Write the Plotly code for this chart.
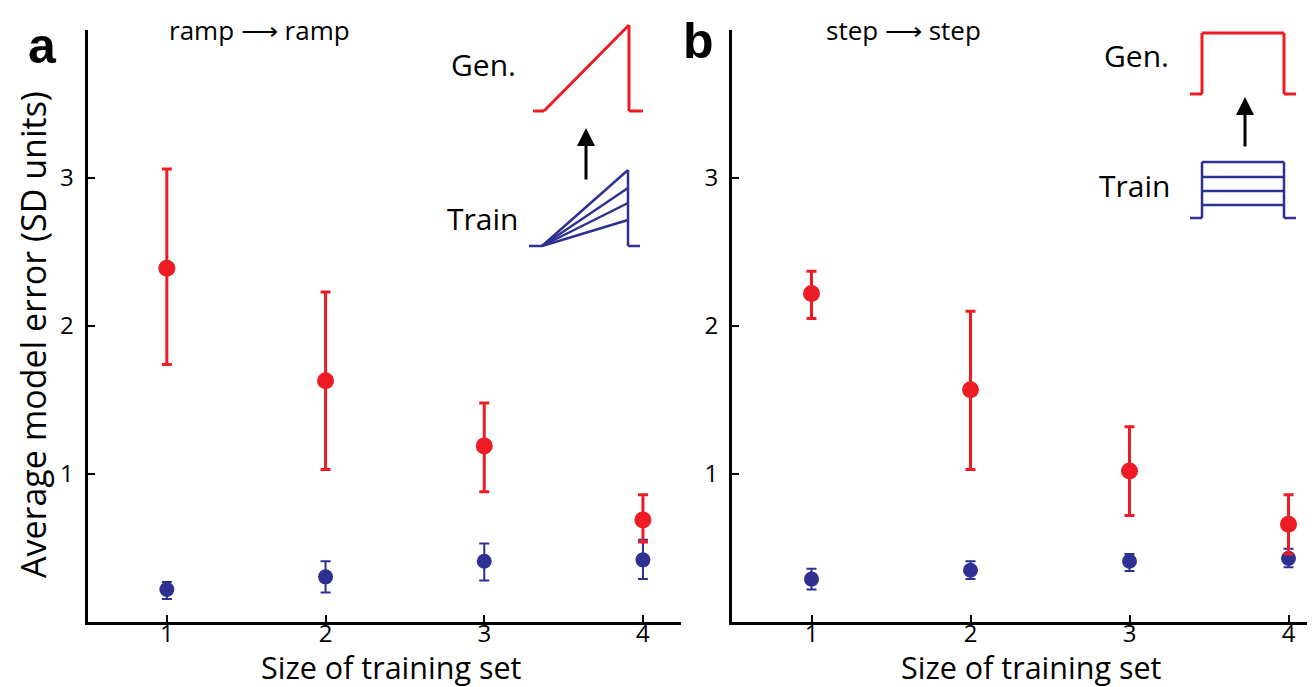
import plotly.graph_objects as go

W, H = 1315, 687

# ---------------- data ----------------
sizes = [1, 2, 3, 4]

# panel a: ramp -> ramp
a_gen_mean = [2.39, 1.63, 1.19, 0.69]
a_gen_hi = [3.06, 2.23, 1.48, 0.86]
a_gen_lo = [1.74, 1.03, 0.88, 0.54]
a_train_mean = [0.22, 0.305, 0.41, 0.42]
a_train_hi = [0.27, 0.41, 0.53, 0.556]
a_train_lo = [0.156, 0.20, 0.28, 0.29]

# panel b: step -> step
b_gen_mean = [2.22, 1.57, 1.02, 0.66]
b_gen_hi = [2.37, 2.10, 1.32, 0.86]
b_gen_lo = [2.05, 1.03, 0.72, 0.46]
b_train_mean = [0.29, 0.35, 0.41, 0.43]
b_train_hi = [0.36, 0.41, 0.46, 0.495]
b_train_lo = [0.22, 0.29, 0.345, 0.37]

y_tickvals = [1, 2, 3, 4]
y_ticktext = ["1", "2", "3", ""]
x_tickvals = [1, 2, 3, 4]
x_ticktext = ["1", "2", "3", "4"]

RED = "#ED1C24"
BLUE = "#2E3192"
FONT = "Open Sans"


def px(x):
    return x / W


def py(y):
    return 1 - y / H


fig = go.Figure()


def add_series(mean, hi, lo, color, size, width, xa, ya):
    fig.add_trace(go.Scatter(
        x=sizes, y=mean, mode="markers", xaxis=xa, yaxis=ya,
        marker=dict(color=color, size=size, line=dict(width=0)),
        error_y=dict(type="data", symmetric=False,
                     array=[h - m for h, m in zip(hi, mean)],
                     arrayminus=[m - l for m, l in zip(mean, lo)],
                     color=color, thickness=width, width=5),
        showlegend=False, hoverinfo="skip"))


add_series(a_train_mean, a_train_hi, a_train_lo, BLUE, 15, 2, "x", "y")
add_series(a_gen_mean, a_gen_hi, a_gen_lo, RED, 17, 3, "x", "y")
add_series(b_train_mean, b_train_hi, b_train_lo, BLUE, 15, 2, "x2", "y2")
add_series(b_gen_mean, b_gen_hi, b_gen_lo, RED, 17, 3, "x2", "y2")

ydom = [py(614), py(22)]
axis_common = dict(showline=True, linecolor="black", linewidth=3, ticks="inside",
                   ticklen=7, tickwidth=2, tickcolor="black", showgrid=False,
                   zeroline=False, tickfont=dict(family=FONT, size=24, color="black"))

fig.update_layout(
    width=W, height=H, margin=dict(l=0, r=0, t=0, b=0),
    paper_bgcolor="white", plot_bgcolor="white",
    xaxis=dict(domain=[px(79.5), px(673)], range=[0.5, 0.5 + (673 - 79.5) / 158.7],
               tickvals=x_tickvals, ticktext=x_ticktext, anchor="y",
               ticklabelstandoff=-12, **axis_common),
    yaxis=dict(domain=ydom, range=[0, 4], tickvals=y_tickvals, ticktext=y_ticktext,
               anchor="x", ticklabelstandoff=6, **axis_common),
    xaxis2=dict(domain=[px(724), 1], range=[0.5, 0.5 + (1315 - 724) / 159.0],
                tickvals=x_tickvals, ticktext=x_ticktext, anchor="y2",
                ticklabelstandoff=-12, **axis_common),
    yaxis2=dict(domain=ydom, range=[0, 4], tickvals=y_tickvals, ticktext=y_ticktext,
                anchor="x2", ticklabelstandoff=6, **axis_common),
)

ann = []


def text(x, y, s, size, bold=False, angle=0, family=FONT):
    ann.append(dict(x=px(x), y=py(y), xref="paper", yref="paper", text=("<b>%s</b>" % s) if bold else s,
                    showarrow=False, textangle=angle, xanchor="center", yanchor="middle",
                    font=dict(family=family, size=size, color="black")))


text(383, 659, "Size of training set", 30.5)
text(1023, 659, "Size of training set", 30.5)
text(25, 327, "Average model error (SD units)", 34, angle=-90)
text(34, 38, "a", 50, bold=True, family="Liberation Sans")
text(690, 33, "b", 50, bold=True, family="Liberation Sans")
text(251, 22, "ramp ⟶ ramp", 26)
text(895, 22, "step ⟶ step", 26)
text(476, 56, "Gen.", 30)
text(474, 211, "Train", 30)
text(1128, 48, "Gen.", 30)
text(1126, 177, "Train", 30)

# arrows
for xh, yh, ay in [(578, 120, 53), (1237, 89, 51)]:
    ann.append(dict(x=px(xh), y=py(yh), xref="paper", yref="paper", ax=0, ay=ay,
                    axref="pixel", ayref="pixel", showarrow=True, arrowhead=2,
                    arrowsize=1.2, arrowwidth=3, arrowcolor="black", text=""))

fig.update_layout(annotations=ann)

shapes = []


def seg(x0, y0, x1, y1, color, w=3):
    shapes.append(dict(type="line", xref="paper", yref="paper", x0=px(x0), y0=py(y0),
                       x1=px(x1), y1=py(y1), line=dict(color=color, width=w)))


# panel a inset: ramps
seg(525, 103, 536, 103, RED)
seg(536, 103, 621, 17, RED)
seg(621, 17, 621, 103, RED)
seg(621, 103, 635, 103, RED)

seg(521, 238, 534, 238, BLUE, 2.5)
for ytop in [162, 180, 195, 212]:
    seg(534, 238, 620, ytop, BLUE, 2.5)
seg(620, 162, 620, 238, BLUE, 2.5)
seg(620, 238, 632, 238, BLUE, 2.5)

# panel b inset: steps
seg(1182, 86, 1194, 86, RED)
seg(1194, 86, 1194, 25, RED)
seg(1194, 25, 1276, 25, RED)
seg(1276, 25, 1276, 86, RED)
seg(1276, 86, 1288, 86, RED)

seg(1182, 210, 1194, 210, BLUE, 2.5)
seg(1194, 210, 1194, 154, BLUE, 2.5)
for yl in [154, 169, 183, 197]:
    seg(1194, yl, 1276, yl, BLUE, 2.5)
seg(1276, 154, 1276, 210, BLUE, 2.5)
seg(1276, 210, 1288, 210, BLUE, 2.5)

fig.update_layout(shapes=shapes)

fig.write_html("out.html")
